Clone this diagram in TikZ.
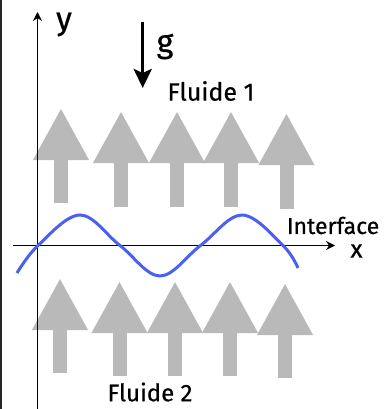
\documentclass[tikz,border=0pt]{standalone}
\usepackage{fontspec}
\setsansfont{Fira Sans}[FakeBold=0.6]
\usepackage{tikz}
\usetikzlibrary{arrows.meta, positioning}

\definecolor{fluxgray}{RGB}{185,185,185}
\definecolor{waveblue}{RGB}{74,96,238}

\newcommand{\labfont}[1]{\sffamily\fontsize{#1}{#1}\selectfont}

\begin{document}
\begin{tikzpicture}[
    x=1pt, y=-1pt,
    label/.style={inner sep=0pt, text=black},
    axis/.style={line width=1.8pt, -{Stealth[length=9pt, width=9pt]}},
    flux/.style={draw=fluxgray, line width=14pt, -{Triangle[length=52pt, width=52pt]}},
    wave/.style={draw=waveblue, line width=3pt},
    gravity/.style={line width=3.5pt, -{Stealth[length=19pt, width=18pt, inset=4pt]}}
]
\useasboundingbox (0,0) rectangle (383,409);

% left frame edge
\draw[line width=1.5pt, black!85] (0.75,0) -- (0.75,409);

% gray arrows, fluid 1
\draw[flux] (61,203) -- (61,108);
\draw[flux] (121,207) -- (121,111);
\draw[flux] (177,207) -- (177,111);
\draw[flux] (231,207) -- (231,111);
\draw[flux] (286.5,209) -- (286.5,113);

% gray arrows, fluid 2
\draw[flux] (60,373) -- (60,278);
\draw[flux] (119.5,376) -- (119.5,281);
\draw[flux] (175,376) -- (175,281);
\draw[flux] (230,376) -- (230,281);
\draw[flux] (285,378) -- (285,283);

% axes
\coordinate (xstart) at (13,245.5);
\coordinate (xend) at (335,245.5);
\coordinate (ystart) at (37.5,409);
\coordinate (yend) at (37.5,12);
\draw[axis] (xstart) -- (xend);
\draw[axis] (ystart) -- (yend);

% interface
\draw[wave] plot[smooth, tension=0.6] coordinates {(17,273) (38,245.5) (80,215) (120,245.5)
    (160,276) (200.5,245.5) (242,215) (283,245.5) (298,268)};

% gravity
\coordinate (gtop) at (142.7,22);
\coordinate (gtip) at (142.7,88);
\draw[gravity] (gtop) -- (gtip);

% labels
\node[label, font=\labfont{32}] (ylab) at (64,24.5) {y};
\node[label, font=\labfont{32}] (glab) at (165,46.5) {g};
\node[label, font=\labfont{25}] (xlab) at (356.5,251) {x};
\node[label, font=\labfont{25}] (fluide1) at (211,91) {Fluide 1};
\node[label, font=\labfont{23}] (interface) at (333,225.5) {Interface};
\node[label, font=\labfont{24}] (fluide2) at (150,392) {Fluide 2};
\end{tikzpicture}
\end{document}
